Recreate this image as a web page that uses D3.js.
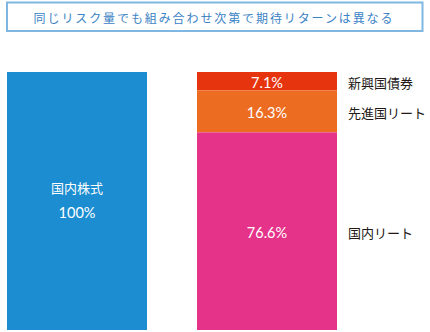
<!DOCTYPE html>
<html><head><meta charset="utf-8">
<script src="https://cdn.jsdelivr.net/npm/d3@7"></script>
<style>body{margin:0;background:#fff;}svg{display:block;font-family:"Noto Sans CJK JP","Noto Sans",sans-serif;}</style>
</head><body><svg id="c" width="430" height="332"></svg>
<script>
const title = "同じリスク量でも組み合わせ次第で期待リターンは異なる";
const leftCategory = "国内株式";
const leftValue = [100];
const rightCategories = ["新興国債券", "先進国リート", "国内リート"];
const rightValues = [7.1, 16.3, 76.6];
const rightColors = ["#e6340f", "#ec6c22", "#e5338a"];
const leftColor = "#1b8dd0";
const bars = ["left", "right"];

const svg = d3.select("#c");
// title box
svg.append("rect").attr("x", 7).attr("y", 2.5).attr("width", 415.5).attr("height", 28.5)
  .attr("fill", "#fff").attr("stroke", "#7fb7e2").attr("stroke-width", 2);
svg.append("text").attr("x", 214).attr("y", 17).attr("text-anchor", "middle")
  .attr("dominant-baseline", "central").attr("font-size", 12).attr("letter-spacing", 1.9)
  .attr("fill", "#3b82c4").text(title);

const x = d3.scaleBand().domain(bars).range([7, 337]).paddingInner(50 / 190).paddingOuter(0);
const y = d3.scaleLinear().domain([0, 100]).range([330, 72]);

const pctFont = "Lato, 'Noto Sans', sans-serif";

// left bar
svg.append("rect").attr("x", x("left")).attr("width", x.bandwidth())
  .attr("y", y(leftValue[0])).attr("height", y(0) - y(leftValue[0])).attr("fill", leftColor);
const lc = x("left") + x.bandwidth() / 2;
svg.append("text").attr("x", lc).attr("y", 187).attr("text-anchor", "middle")
  .attr("dominant-baseline", "central").attr("font-size", 13)
  .attr("fill", "#fff").text(leftCategory);
svg.append("text").attr("x", lc).attr("y", 212).attr("text-anchor", "middle")
  .attr("dominant-baseline", "central").attr("font-size", 14.5)
  .attr("font-family", pctFont).attr("fill", "#fff").text(leftValue[0] + "%");

// right stacked bar (top to bottom in given order)
let cum = 100;
const segs = rightValues.map((v, i) => { const top = cum; cum -= v; return {v, i, top, bot: cum}; });
const rc = x("right") + x.bandwidth() / 2;
const g = svg.append("g");
g.selectAll("rect").data(segs).join("rect")
  .attr("x", x("right")).attr("width", x.bandwidth())
  .attr("y", d => y(d.top)).attr("height", d => y(d.bot) - y(d.top))
  .attr("fill", d => rightColors[d.i]);
g.selectAll("text.v").data(segs).join("text").attr("class", "v")
  .attr("x", rc).attr("y", d => (y(d.top) + y(d.bot)) / 2 + 1)
  .attr("text-anchor", "middle").attr("dominant-baseline", "central")
  .attr("font-size", 14.5).attr("font-family", pctFont)
  .attr("fill", "#fff").text(d => d.v + "%");
g.selectAll("text.n").data(segs).join("text").attr("class", "n")
  .attr("x", 348).attr("y", d => (y(d.top) + y(d.bot)) / 2 + 1)
  .attr("dominant-baseline", "central")
  .attr("font-size", 13).attr("fill", "#231815").text(d => rightCategories[d.i]);
</script></body></html>
